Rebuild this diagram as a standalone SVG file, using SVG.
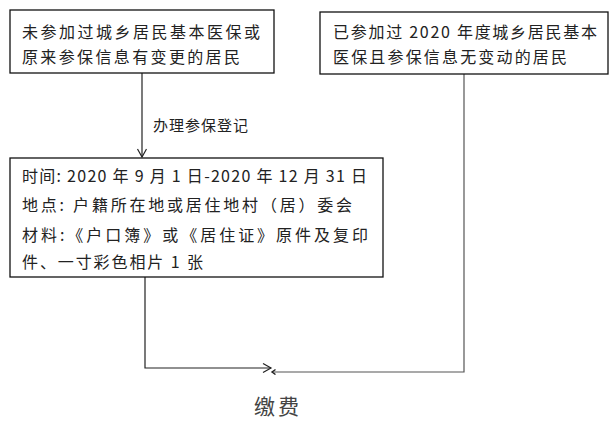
<svg xmlns="http://www.w3.org/2000/svg" width="616" height="430" viewBox="0 0 616 430">
<style>
.box{fill:#fff;stroke:#111;stroke-width:1.3}
.t{font-family:"Noto Sans CJK SC","Liberation Serif",serif;font-size:16px;fill:#222}
.c{fill:none;stroke:#222;stroke-width:1.2}
</style>
<defs>
<marker id="ah" markerUnits="userSpaceOnUse" markerWidth="12" markerHeight="12" refX="9" refY="5" orient="auto">
<path d="M1,0.5 L9,5 L1,9.5" fill="none" stroke="#222" stroke-width="1.2"/>
</marker>
<marker id="ahs" markerUnits="userSpaceOnUse" markerWidth="8" markerHeight="8" refX="4" refY="3" orient="auto">
<path d="M0.5,0.5 L4,3 L0.5,5.5" fill="none" stroke="#222" stroke-width="1.4"/>
</marker>
</defs>
<rect width="616" height="430" fill="#fff"/>
<g id="connectors">
<path class="c" d="M142,73 V157" marker-end="url(#ah)"/>
<path class="c" d="M145,277 V368 H271" marker-end="url(#ah)"/>
<path class="c" d="M464,74 V372 H272" style="stroke:#555" marker-end="url(#ahs)"/>
<text class="t" x="153" y="131" style="font-size:15px" textLength="95" lengthAdjust="spacing">办理参保登记</text>
</g>
<g id="node-new">
<rect class="box" x="10" y="10" width="264" height="63"/>
<text class="t" x="22" y="38" textLength="238" lengthAdjust="spacing">未参加过城乡居民基本医保或</text>
<text class="t" x="22" y="63" textLength="218" lengthAdjust="spacing">原来参保信息有变更的居民</text>
</g>
<g id="node-existing">
<rect class="box" x="320" y="12" width="288" height="62"/>
<text class="t" x="333" y="38" textLength="264" lengthAdjust="spacing">已参加过 2020 年度城乡居民基本</text>
<text class="t" x="333" y="63" textLength="234" lengthAdjust="spacing">医保且参保信息无变动的居民</text>
</g>
<g id="node-register">
<rect class="box" x="10" y="158" width="373" height="119"/>
<text class="t" x="22" y="182" textLength="345" lengthAdjust="spacing">时间: 2020 年 9 月 1 日-2020 年 12 月 31 日</text>
<text class="t" x="22" y="211" textLength="330" lengthAdjust="spacing">地点: 户籍所在地或居住地村（居）委会</text>
<text class="t" x="22" y="241" textLength="346" lengthAdjust="spacing">材料:《户口簿》或《居住证》原件及复印</text>
<text class="t" x="22" y="268" textLength="181" lengthAdjust="spacing">件、一寸彩色相片 1 张</text>
</g>
<g id="node-pay">
<text class="t" x="254" y="414" style="font-size:21px;fill:#444" textLength="45" lengthAdjust="spacing">缴费</text>
</g>
</svg>
